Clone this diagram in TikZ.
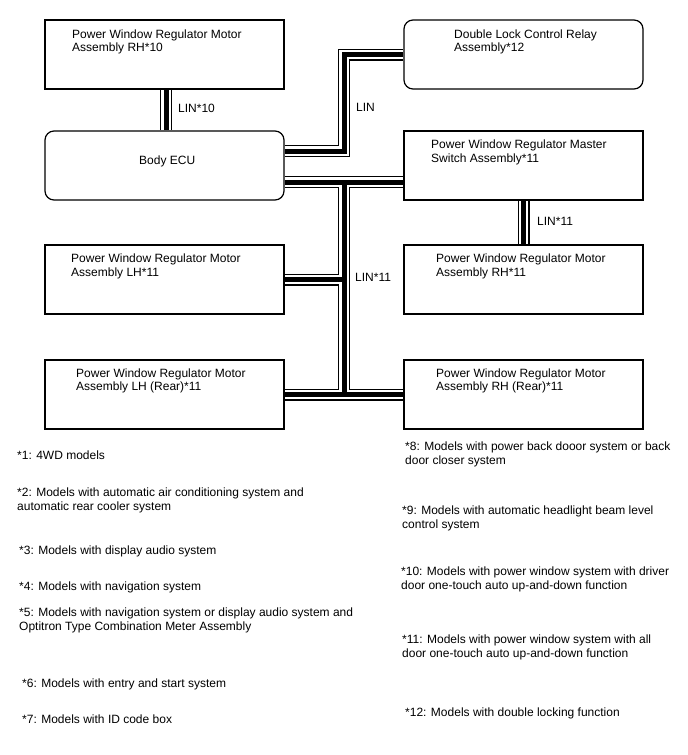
\documentclass[tikz,border=0pt]{standalone}
\usepackage{fontspec}
\setmainfont{Liberation Sans}
\usetikzlibrary{backgrounds}
\begin{document}
\begin{tikzpicture}[x=1pt,y=-1pt,
  box/.style={draw,line width=1.2pt,fill=white,inner sep=0pt,minimum width=239pt,minimum height=69pt},
  rbox/.style={box,rounded corners=9pt},
  txt/.style={anchor=base west,inner sep=0pt,align=left,font=\fontsize{12}{13.5}\selectfont},
  note/.style={anchor=base west,inner sep=0pt,align=left,font=\fontsize{12}{14}\selectfont},
  lbl/.style={anchor=base west,inner sep=0pt,font=\fontsize{12}{14}\selectfont}]
\useasboundingbox (0,0) rectangle (688,755);
% boxes
\node[box]  (rh10) at (164.5,54.5) {};
\node[rbox] (ecu)  at (164.5,165.5) {};
\node[rbox] (dl)   at (523.5,54.5) {};
\node[box]  (ms)   at (523.5,165.5) {};
\node[box]  (lh)   at (164.5,279.5) {};
\node[box]  (rh11) at (523.5,279.5) {};
\node[box]  (lhr)  at (164.5,394.5) {};
\node[box]  (rhr)  at (523.5,394.5) {};
% box texts (base anchor = last line)
\node[txt] (trh10) at (72,51.5) {Power Window Regulator Motor\\Assembly RH*10};
\node[txt] (tecu)  at (139,164) {Body ECU};
\node[txt] (tdl)   at (454,51.5) {Double Lock Control Relay\\Assembly*12};
\node[txt] (tms)   at (431,162) {Power Window Regulator Master\\Switch Assembly*11};
\node[txt] (tlh)   at (71,276) {Power Window Regulator Motor\\Assembly LH*11};
\node[txt] (trh11) at (436,276) {Power Window Regulator Motor\\Assembly RH*11};
\node[txt] (tlhr)  at (76,390.5) {Power Window Regulator Motor\\Assembly LH (Rear)*11};
\node[txt] (trhr)  at (436,390.5) {Power Window Regulator Motor\\Assembly RH (Rear)*11};
% junctions
\coordinate (j1) at (344,151);
\coordinate (j2) at (344,182);
\coordinate (j3) at (j2 |- lhr.east);
% cables
\begin{pgfonlayer}{background}
\path[save path=\cnet]
  (ecu.east |- j1) -- (j1) -- (j1 |- dl.west) -- (dl.west)
  (ecu.east |- j2) -- (ms.west |- j2)
  (j2) -- (j3)
  (lh.east) -- (lh.east -| j2)
  (lhr.east) -- (rhr.west)
  ([xshift=1.5pt]rh10.south) -- ([xshift=1.5pt]ecu.north)
  (ms.south) -- (rh11.north);
\draw[line width=12pt,black,use path=\cnet];
\draw[line width=9.5pt,white,use path=\cnet];
\draw[line width=5pt,black,use path=\cnet];
\end{pgfonlayer}
% cable labels
\node[lbl] (l10)  at (178,112.5) {LIN*10};
\node[lbl] (ldl)  at (356,111.5) {LIN};
\node[lbl] (l11a) at (537,225) {LIN*11};
\node[lbl] (l11b) at (355,281) {LIN*11};
% footnotes
\node[note] (n1)  at (17,459.3) {*1: 4WD models};
\node[note] (n2)  at (17,510) {*2: Models with automatic air conditioning system and\\automatic rear cooler system};
\node[note] (n3)  at (19,554.3) {*3: Models with display audio system};
\node[note] (n4)  at (19,590) {*4: Models with navigation system};
\node[note] (n5)  at (19,630.7) {*5: Models with navigation system or display audio system and\\Optitron Type Combination Meter Assembly};
\node[note] (n6)  at (22,687.3) {*6: Models with entry and start system};
\node[note] (n7)  at (22,723.3) {*7: Models with ID code box};
\node[note] (n8)  at (405,464.7) {*8: Models with power back dooor system or back\\door closer system};
\node[note] (n9)  at (402,528) {*9: Models with automatic headlight beam level\\control system};
\node[note] (n10) at (401,589.3) {*10: Models with power window system with driver\\door one-touch auto up-and-down function};
\node[note] (n11) at (402,657.3) {*11: Models with power window system with all\\door one-touch auto up-and-down function};
\node[note] (n12) at (405,716.7) {*12: Models with double locking function};
\end{tikzpicture}
\end{document}
